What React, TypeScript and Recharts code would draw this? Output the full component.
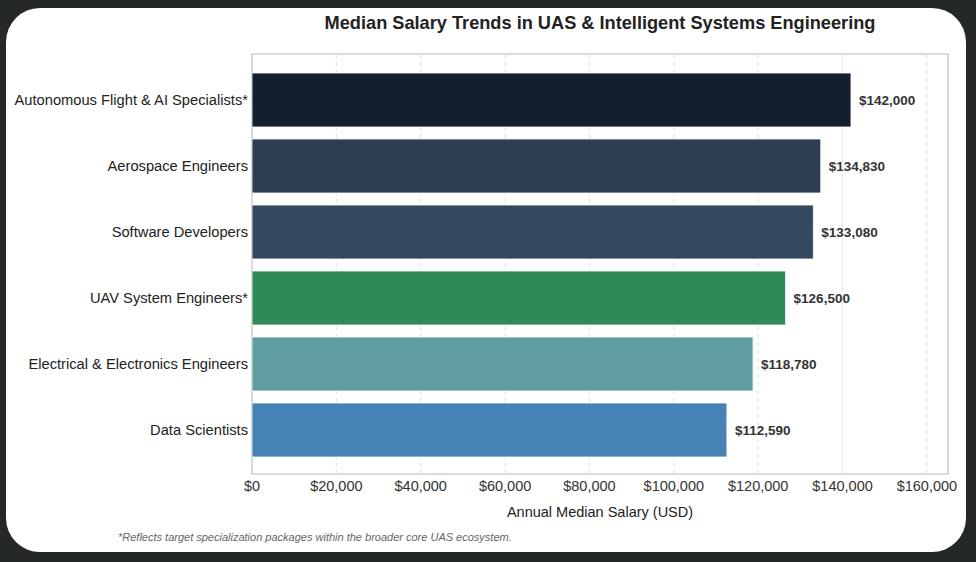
import React from 'react';
import {
  Bar,
  BarChart,
  CartesianGrid,
  Cell,
  LabelList,
  XAxis,
  YAxis
} from 'recharts';

const roles = [
  'Autonomous Flight & AI Specialists*',
  'Aerospace Engineers',
  'Software Developers',
  'UAV System Engineers*',
  'Electrical & Electronics Engineers',
  'Data Scientists'
];
const salaries = [142000, 134830, 133080, 126500, 118780, 112590];
const barColors = ['#131f2f', '#2d3e50', '#34495e', '#2e8b57', '#5f9ea0', '#4682b4'];
const salaryTicks = [0, 20000, 40000, 60000, 80000, 100000, 120000, 140000, 160000];

const FONT = '"Liberation Sans", Arial, sans-serif';
const X_MAX = 165000;
const MARGIN = { top: 54, right: 28, bottom: 58, left: 12 };
const W = 976;
const H = 562;

const money = (v: number) => `$${Number(v).toLocaleString('en-US')}`;

// single-line role label, right aligned against the plot edge
function RoleTick(props: any) {
  const { x, y, payload } = props;
  return (
    <text
      x={x}
      y={y}
      dy="0.35em"
      textAnchor="end"
      fontSize={14.7}
      fill="#222"
      fontFamily={FONT}
    >
      {payload.value}
    </text>
  );
}

export default function App() {
  const data = roles.map((role, i) => ({ role, salary: salaries[i] }));
  const plotLeft = MARGIN.left + 240;
  const plotRight = W - MARGIN.right;
  const plotBottom = H - MARGIN.bottom - 30;

  return (
    <div
      style={{
        position: 'fixed',
        left: 0,
        top: 0,
        width: W,
        height: H,
        background: '#252829',
        fontFamily: FONT
      }}
    >
      <div
        style={{
          position: 'absolute',
          left: 6,
          top: 8,
          width: 960,
          height: 544,
          background: '#fff',
          borderRadius: 34
        }}
      />
      <div
        style={{
          position: 'absolute',
          left: 252,
          width: 696,
          top: 13,
          textAlign: 'center',
          fontSize: 18.2,
          fontWeight: 'bold',
          color: '#222'
        }}
      >
        Median Salary Trends in UAS &amp; Intelligent Systems Engineering
      </div>
      <div style={{ position: 'absolute', left: 0, top: 0 }}>
        <BarChart
          width={W}
          height={H}
          data={data}
          layout="vertical"
          margin={MARGIN}
          barSize={54}
        >
          <CartesianGrid
            horizontal={false}
            strokeDasharray="5 3"
            stroke="#e4e4e4"
          />
          {/* solid frame around the plot area */}
          <CartesianGrid
            horizontalPoints={[MARGIN.top, plotBottom]}
            verticalPoints={[plotLeft, plotRight]}
            stroke="#cfcfcf"
            strokeWidth={1.5}
          />
          <XAxis
            type="number"
            domain={[0, X_MAX]}
            ticks={salaryTicks}
            tickFormatter={money}
            allowDataOverflow
            height={30}
            tickSize={0}
            tickMargin={7}
            axisLine={false}
            tick={{ fontSize: 14.5, fill: '#333', fontFamily: FONT }}
            label={{
              value: 'Annual Median Salary (USD)',
              position: 'insideBottom',
              offset: -13,
              fontSize: 14.5,
              fill: '#222',
              fontFamily: FONT
            }}
          />
          <YAxis
            type="category"
            dataKey="role"
            width={240}
            tickSize={0}
            tickMargin={4}
            axisLine={false}
            padding={{ top: 13, bottom: 11 }}
            tick={<RoleTick />}
          />
          <Bar dataKey="salary" isAnimationActive={false} stroke="#fff" strokeWidth={0.8}>
            {data.map((d, i) => (
              <Cell key={d.role} fill={barColors[i]} />
            ))}
            <LabelList
              dataKey="salary"
              position="right"
              offset={8}
              formatter={money}
              style={{ fontSize: 13.5, fontWeight: 'bold', fill: '#333', fontFamily: FONT }}
            />
          </Bar>
        </BarChart>
      </div>
      <div
        style={{
          position: 'absolute',
          left: 118,
          top: 531,
          fontSize: 11,
          fontStyle: 'italic',
          color: '#666'
        }}
      >
        *Reflects target specialization packages within the broader core UAS ecosystem.
      </div>
    </div>
  );
}
